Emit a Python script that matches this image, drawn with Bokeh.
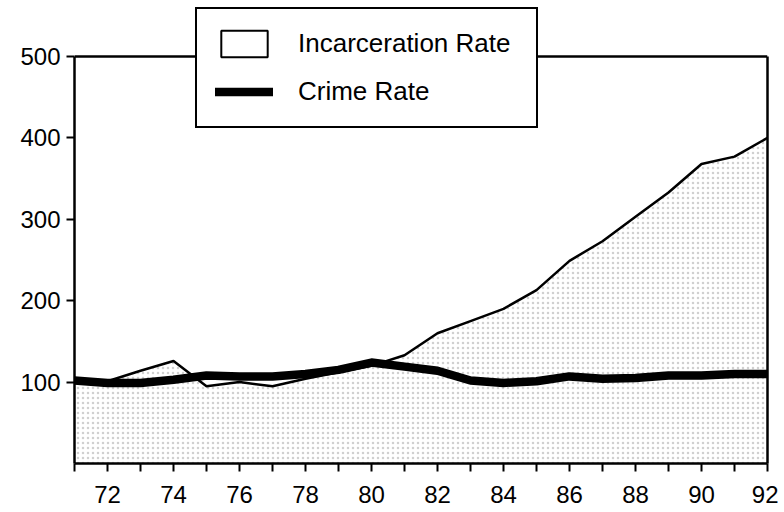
from bokeh.plotting import figure
from bokeh.models import (ColumnDataSource, FixedTicker, Legend, LegendItem, Range1d,
                          LinearAxis, Span)
from bokeh.embed import file_html
from bokeh.resources import INLINE

years = list(range(71, 93))
incarceration = [100, 101, 114, 126, 95, 100, 95, 104, 112, 120, 133, 160, 175, 190, 213, 249, 273, 303, 333, 368, 377, 400]
crime = [102, 99, 99, 103, 108, 107, 107, 110, 115, 124, 119, 114, 102, 99, 101, 107, 104, 105, 108, 108, 110, 110]

x_major_ticks = [72, 74, 76, 78, 80, 82, 84, 86, 88, 90, 92]
x_minor_ticks = [71, 73, 75, 77, 79, 81, 83, 85, 87, 89, 91]
y_ticks = [100, 200, 300, 400, 500]
y_max = 500

FONT = "Liberation Sans"

src = ColumnDataSource(dict(year=years, inc=incarceration, crime=crime, zero=[0] * len(years)))

p = figure(width=778, height=508, output_backend="svg", toolbar_location=None,
           x_range=Range1d(71, 92), y_range=Range1d(0, 568.8),
           min_border_left=74, min_border_right=11, min_border_top=0, min_border_bottom=45)

p.grid.visible = False
p.background_fill_color = "white"
p.border_fill_color = "white"
p.outline_line_color = None

# stippled area under incarceration rate
p.varea(x="year", y1="zero", y2="inc", source=src, fill_color="white",
        hatch_pattern="dot", hatch_color="#444444", hatch_scale=5, hatch_weight=1, hatch_alpha=0.25)

inc_line = p.line(x="year", y="inc", source=src, line_color="black", line_width=2.5)
crime_line = p.line(x="year", y="crime", source=src, line_color="black", line_width=8.5,
                    line_cap="round", line_join="round")

# legend swatch for incarceration (white box); not drawn in the plot itself
nan = float("nan")
swatch = p.quad(left=[nan], right=[nan], top=[nan], bottom=[nan], fill_color="white",
                line_color="black", line_width=2)

# top border of the plotting box
p.add_layout(Span(location=y_max, dimension="width", line_color="black", line_width=2.5))

# right border
rax = LinearAxis(bounds=(0, y_max), ticker=FixedTicker(ticks=[]), major_label_text_font_size="0px",
                 axis_line_width=2.5, axis_line_color="black", major_tick_line_color=None,
                 minor_tick_line_color=None)
p.add_layout(rax, "right")

for ax in (p.xaxis[0], p.yaxis[0]):
    ax.axis_line_width = 2.5
    ax.axis_line_color = "black"
    ax.major_tick_line_width = 2
    ax.major_tick_line_color = "black"
    ax.major_tick_in = 0
    ax.major_tick_out = 8
    ax.major_label_text_font = FONT
    ax.major_label_text_font_size = "24px"
    ax.major_label_text_color = "black"

p.xaxis[0].major_label_standoff = 14
p.yaxis[0].major_label_standoff = 6
p.yaxis[0].bounds = (0, y_max)

p.xaxis[0].ticker = FixedTicker(ticks=x_major_ticks, minor_ticks=x_minor_ticks)
p.xaxis[0].minor_tick_in = 0
p.xaxis[0].minor_tick_out = 8
p.xaxis[0].minor_tick_line_width = 2
p.xaxis[0].minor_tick_line_color = "black"

p.yaxis[0].ticker = FixedTicker(ticks=y_ticks)
p.yaxis[0].minor_tick_line_color = None

legend = Legend(items=[LegendItem(label="Incarceration Rate", renderers=[swatch]),
                       LegendItem(label="Crime Rate", renderers=[crime_line])],
                location=(121, 335), orientation="vertical",
                glyph_width=58, glyph_height=33, label_standoff=25, spacing=15,
                padding=18, margin=0, label_width=220,
                label_text_font=FONT, label_text_font_size="26px", label_text_color="black",
                border_line_color="black", border_line_width=2.5, border_line_alpha=1.0,
                background_fill_color="white", background_fill_alpha=1.0)
p.add_layout(legend, "center")

open("out.html", "w").write(file_html(p, INLINE))
